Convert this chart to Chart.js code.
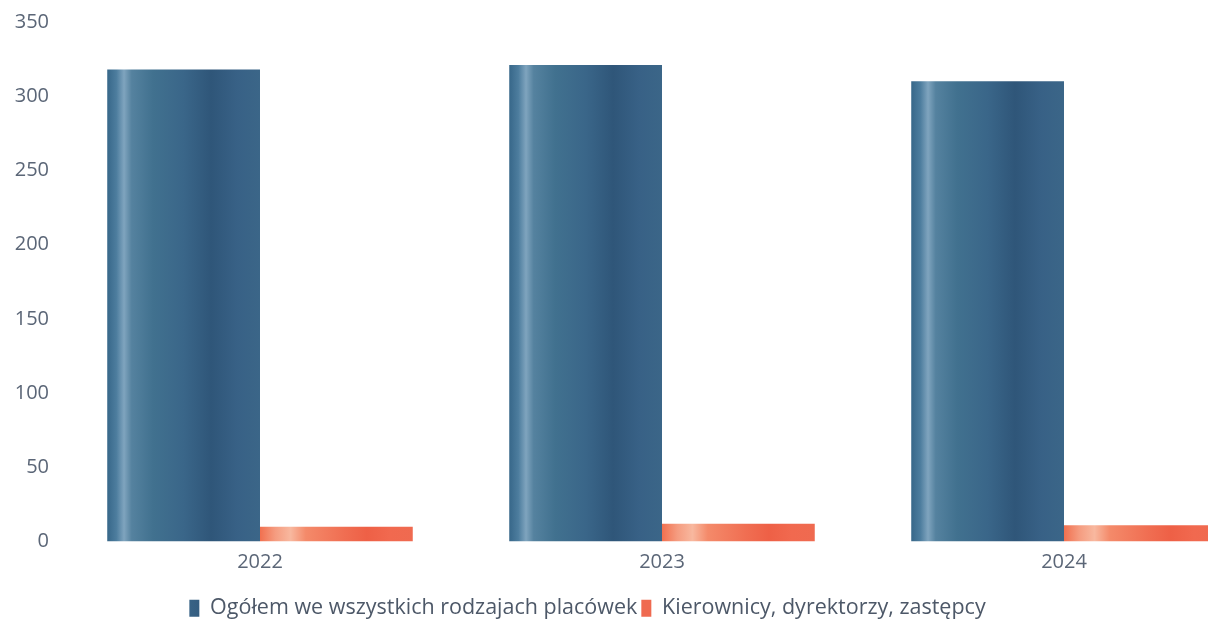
<!DOCTYPE html>
<html>
<head>
<meta charset="utf-8">
<script src="https://cdn.jsdelivr.net/npm/chart.js@4/dist/chart.umd.min.js"></script>
<style>
 html, body { margin: 0; padding: 0; background: #fff; overflow: hidden; }
 #wrap { position: relative; width: 1265px; height: 629px; }
</style>
</head>
<body>
<div id="wrap"><canvas id="chart"></canvas></div>
<script>
// dane z wykresu
const years = ['2022', '2023', '2024'];
const ogolem = [318, 321, 310];
const kierownicy = [10, 12, 11];
const seriesNames = ['Ogółem we wszystkich rodzajach placówek', 'Kierownicy, dyrektorzy, zastępcy'];
const yTicks = [0, 50, 100, 150, 200, 250, 300, 350];

const CAT_PCT = 0.76;

// przejścia kolorów dające efekt "walca"
const blueStops = [
 [0, '#376789'], [0.06, '#4d7d9e'], [0.11, '#7fa4be'], [0.16, '#55829f'],
 [0.3, '#41718f'], [0.5, '#3a6689'], [0.68, '#2f5679'], [0.85, '#386186'], [1, '#3b6688']
];
const orangeStops = [
 [0, '#f1704f'], [0.1, '#f59c80'], [0.2, '#f8b89f'], [0.3, '#f48a6a'],
 [0.55, '#f06e52'], [0.7, '#ee6046'], [0.85, '#f1694f'], [1, '#ef6a50']
];

function barFill(stops, solid, dsIndex) {
 return function(c) {
  const chart = c.chart;
  const xs = chart.scales.x;
  if (c.dataIndex === undefined || !xs) return solid;
  const cw = (xs.right - xs.left) / years.length;
  const center = xs.getPixelForValue(c.dataIndex);
  if (!isFinite(cw) || !isFinite(center) || cw <= 0) return solid;
  const bw = cw * CAT_PCT / 2;
  const left = center - cw * CAT_PCT / 2 + dsIndex * bw;
  const g = chart.ctx.createLinearGradient(left, 0, left + bw, 0);
  stops.forEach(s => g.addColorStop(s[0], s[1]));
  return g;
 };
}

// przesunięcie legendy w lewo (oryginał nie jest wyśrodkowany)
const legendShift = {
 id: 'legendShift',
 afterLayout(chart) {
  chart.legend.left -= 45;
  chart.legend.right -= 45;
 }
};

const tickColor = '#5b6677';
const tickFont = { family: 'Open Sans', size: 20 };
const legendFont = { family: 'Open Sans', size: 21.5 };

new Chart(document.getElementById('chart'), {
 type: 'bar',
 data: {
  labels: years,
  datasets: [
   {
    label: seriesNames[0],
    data: ogolem,
    backgroundColor: barFill(blueStops, '#34608a', 0),
    borderWidth: 0
   },
   {
    label: seriesNames[1],
    data: kierownicy,
    backgroundColor: barFill(orangeStops, '#f06a50', 1),
    borderWidth: 0
   }
  ]
 },
 options: {
  responsive: true,
  maintainAspectRatio: false,
  animation: false,
  layout: { padding: { top: 17, left: 0, right: 0, bottom: 0 } },
  datasets: { bar: { categoryPercentage: CAT_PCT, barPercentage: 1.0 } },
  scales: {
   x: {
    grid: { display: false, drawTicks: false },
    border: { display: false },
    ticks: { color: tickColor, font: tickFont, padding: 9 },
    afterFit: (axis) => { axis.height = 52; }
   },
   y: {
    min: 0,
    max: 350,
    afterBuildTicks: (axis) => { axis.ticks = yTicks.map(v => ({ value: v })); },
    grid: { display: false, drawTicks: false },
    border: { display: false },
    ticks: { color: tickColor, font: tickFont, padding: 10 },
    afterFit: (axis) => { axis.width = 59; }
   }
  },
  plugins: {
   legend: {
    position: 'bottom',
    labels: {
     color: '#4d5868',
     font: legendFont,
     boxWidth: 10,
     boxHeight: 17,
     padding: 4
    }
   },
   tooltip: { enabled: false }
  }
 },
 plugins: [legendShift]
});
</script>
</body>
</html>
